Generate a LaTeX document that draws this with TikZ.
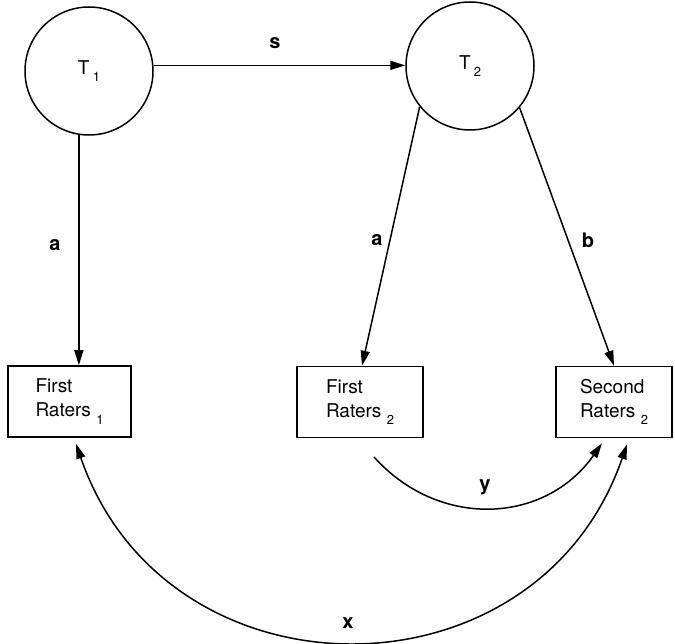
\documentclass[tikz,border=0pt]{standalone}
\usepackage{fontspec}
\setmainfont{TeX Gyre Heros}
\usetikzlibrary{arrows.meta,calc}
\newcommand{\lowsub}[1]{\raisebox{-7.5pt}{\fontsize{13}{13}\selectfont #1}}

\begin{document}
\begin{tikzpicture}[x=1pt,y=1pt,
  font=\fontsize{19}{24}\selectfont,
  latent/.style={draw,circle,line width=1.5pt,minimum size=128pt,inner sep=0pt},
  rater/.style={draw,rectangle,line width=1.5pt,minimum height=71pt,align=left,inner sep=0pt},
  path/.style={line width=1.5pt,-{Triangle[length=15pt,width=9pt]}},
  both/.style={line width=1.5pt,{Triangle[length=15pt,width=9pt]}-{Triangle[length=15pt,width=9pt]}},
  coef/.style={font=\fontsize{20}{20}\selectfont\bfseries}]
\useasboundingbox (0,0) rectangle (675,-644);
% latent traits
\node[latent] (T1) at (89,-71) {T\,\lowsub{1}};
\node[latent] (T2) at (470,-66) {T\,\lowsub{2}};
% rater boxes
\node[rater,minimum width=123pt] (R1) at (69.5,-401.5) {First\\Raters \lowsub{1}};
\node[rater,minimum width=126pt] (R2) at (360,-402) {First\\Raters \lowsub{2}};
\node[rater,minimum width=116pt] (R3) at (614,-402) {Second\\Raters \lowsub{2}};
% paths
\draw[path] (T1.5) -- (T1.5 -| T2.west);
\draw[path] (T1.261) -- (T1.261 |- R1.north);
\draw[path] (T2.219) -- ($(R2.north)+(2,0)$);
\draw[path] (T2.320) -- (R3.north);
\coordinate (yfree) at (374,-457);
\draw[path] (yfree) to[out=-48,in=-125,looseness=1.1] ($(R3.south)+(-12,-5)$);
\draw[both] ($(R1.south)+(6.5,-6)$) to[out=-71,in=-109,looseness=1.29] ($(R3.south)+(13,-6)$);
% coefficients
\node[coef] (ls) at (275,-43) {s};
\node[coef] (la1) at (55,-245) {a};
\node[coef] (la2) at (377,-240) {a};
\node[coef] (lb) at (588,-240) {b};
\node[coef] (ly) at (485,-487) {y};
\node[coef] (lx) at (348,-623) {x};
\end{tikzpicture}
\end{document}
